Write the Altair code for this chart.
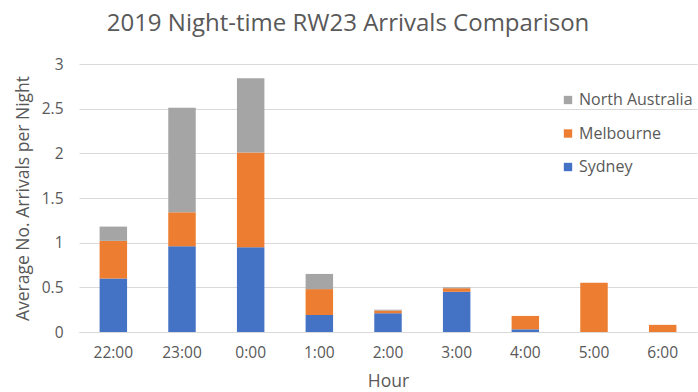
import altair as alt
import pandas as pd

hours = ["22:00", "23:00", "0:00", "1:00", "2:00", "3:00", "4:00", "5:00", "6:00"]
sydney = [0.60, 0.96, 0.95, 0.19, 0.21, 0.45, 0.03, 0.0, 0.0]
melbourne = [0.42, 0.38, 1.06, 0.29, 0.03, 0.04, 0.15, 0.55, 0.08]
north_australia = [0.16, 1.17, 0.83, 0.17, 0.01, 0.01, 0.0, 0.0, 0.0]

series = ["North Australia", "Melbourne", "Sydney"]
colors = ["#A5A5A5", "#ED7D31", "#4472C4"]
stack_rank = {"Sydney": 0, "Melbourne": 1, "North Australia": 2}

rows = []
for name, vals in [("Sydney", sydney), ("Melbourne", melbourne), ("North Australia", north_australia)]:
    for h, v in zip(hours, vals):
        rows.append({"Hour": h, "Region": name, "Value": v, "rank": stack_rank[name]})
df = pd.DataFrame(rows)

txt = "#595959"
font = "Open Sans"

chart = alt.Chart(df).mark_bar().encode(
    x=alt.X("Hour:N", sort=hours,
            scale=alt.Scale(paddingInner=0.6, paddingOuter=0.3),
            axis=alt.Axis(title="Hour", labelAngle=0, ticks=False, domainColor="#D9D9D9",
                          labelPadding=13, labelFontSize=15.5, labelColor=txt, labelFont=font,
                          titleFontSize=17.5, titleColor=txt, titleFont=font, titleFontWeight="normal",
                          titlePadding=12)),
    y=alt.Y("Value:Q", stack="zero",
            scale=alt.Scale(domain=[0, 3], nice=False),
            axis=alt.Axis(title="Average No. Arrivals per Night", values=[0, 0.5, 1, 1.5, 2, 2.5, 3],
                          format="~g",
                          ticks=False, domain=False, gridColor="#D9D9D9", labelPadding=16,
                          labelFontSize=15.5, labelColor=txt, labelFont=font,
                          titleFontSize=17.5, titleColor=txt, titleFont=font, titleFontWeight="normal",
                          titlePadding=9)),
    color=alt.Color("Region:N", scale=alt.Scale(domain=series, range=colors),
                    legend=alt.Legend(title=None, orient="none", legendX=481, legendY=28,
                                      symbolType="square", symbolSize=70, symbolStrokeWidth=0,
                                      labelFontSize=16, labelColor=txt, labelFont=font,
                                      rowPadding=17.5, labelOffset=3)),
    order=alt.Order("rank:Q", sort="ascending"),
).properties(
    width=618, height=268,
    padding={"left": 79, "top": 64, "right": 1, "bottom": 60},
    autosize=alt.AutoSizeParams(type="none"),
    title=alt.TitleParams("2019 Night-time RW23 Arrivals Comparison", fontSize=24, font=font,
                          color=txt, fontWeight="normal", anchor="middle", dx=-40, offset=21),
).configure_view(stroke=None)

chart.save("out.html", embed_options={"renderer": "svg", "actions": False})
